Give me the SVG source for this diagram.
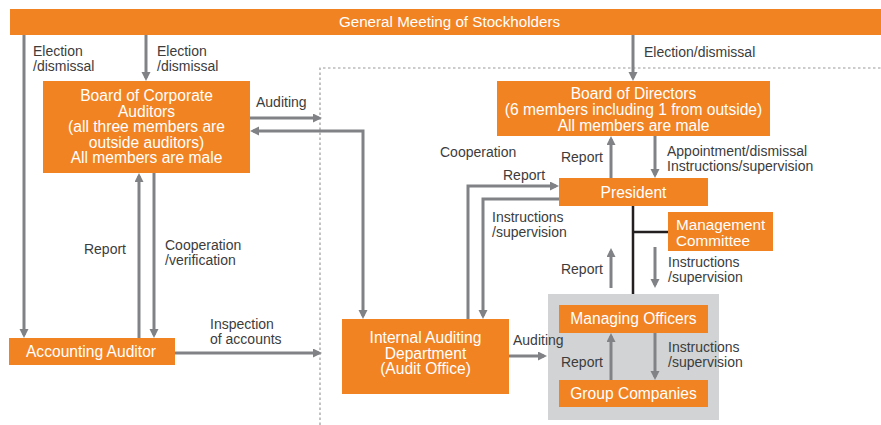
<svg xmlns="http://www.w3.org/2000/svg" width="881" height="425" viewBox="0 0 881 425">
<style>
.box{fill:#f28322}
.bt{font-family:"Liberation Sans",Arial,sans-serif;font-size:15.6px;fill:#ffffff;text-anchor:middle}
.btl{font-family:"Liberation Sans",Arial,sans-serif;font-size:15.3px;fill:#ffffff}
.lb{font-family:"Liberation Sans",Arial,sans-serif;font-size:14px;fill:#3c3c3c}
.ar{fill:none;stroke:#808285;stroke-width:3}
.blk{fill:none;stroke:#231f20;stroke-width:2.5}
.dot{fill:none;stroke:#9a9a9a;stroke-width:1.2;stroke-dasharray:2.5 2.5}
</style>
<defs>
<marker id="ah" markerUnits="userSpaceOnUse" markerWidth="10" markerHeight="10" refX="6" refY="4.5" orient="auto-start-reverse" viewBox="0 0 10 10">
<path d="M0,0 L9,4.5 L0,9 z" fill="#808285"/>
</marker>
</defs>
<rect width="881" height="425" fill="#ffffff"/>
<path class="dot" d="M320 425 V68 H881"/>
<rect x="548" y="294" width="171" height="126" fill="#d1d3d4"/>
<g id="connectors">
<path class="ar" d="M24 35 V335" marker-end="url(#ah)"/>
<path class="ar" d="M146 35 V78" marker-end="url(#ah)"/>
<path class="ar" d="M633 35 V78" marker-end="url(#ah)"/>
<path class="ar" d="M250 118 H319" marker-end="url(#ah)"/>
<path class="ar" d="M253 131 H363 V316" marker-start="url(#ah)" marker-end="url(#ah)"/>
<path class="ar" d="M139 338 V176" marker-end="url(#ah)"/>
<path class="ar" d="M154 173 V335" marker-end="url(#ah)"/>
<path class="ar" d="M175 353 H319" marker-end="url(#ah)"/>
<path class="ar" d="M611 178 V139" marker-end="url(#ah)"/>
<path class="ar" d="M655 136 V175" marker-end="url(#ah)"/>
<path class="ar" d="M468 319 V186 H556" marker-end="url(#ah)"/>
<path class="ar" d="M559 199 H483 V316" marker-end="url(#ah)"/>
<path class="blk" d="M633 206 V294 M633 232 H668"/>
<path class="ar" d="M655 247 V285" marker-end="url(#ah)"/>
<path class="ar" d="M611 288 V251" marker-end="url(#ah)"/>
<path class="ar" d="M509 356 H544" marker-end="url(#ah)"/>
<path class="ar" d="M611 380 V336" marker-end="url(#ah)"/>
<path class="ar" d="M655 333 V377" marker-end="url(#ah)"/>
</g>
<g id="labels">
<text class="lb" x="33" y="55.5">Election</text>
<text class="lb" x="33" y="70.5">/dismissal</text>
<text class="lb" x="157" y="55.5">Election</text>
<text class="lb" x="157" y="70.5">/dismissal</text>
<text class="lb" x="644" y="57">Election/dismissal</text>
<text class="lb" x="256" y="107">Auditing</text>
<text class="lb" x="126" y="254" text-anchor="end">Report</text>
<text class="lb" x="165" y="249.5">Cooperation</text>
<text class="lb" x="165" y="264.5">/verification</text>
<text class="lb" x="210" y="328.5">Inspection</text>
<text class="lb" x="210" y="343.5">of accounts</text>
<text class="lb" x="440" y="157">Cooperation</text>
<text class="lb" x="503" y="180">Report</text>
<text class="lb" x="492" y="221.5">Instructions</text>
<text class="lb" x="492" y="236.5">/supervision</text>
<text class="lb" x="603" y="162" text-anchor="end">Report</text>
<text class="lb" x="667" y="155.5">Appointment/dismissal</text>
<text class="lb" x="667" y="170.5">Instructions/supervision</text>
<text class="lb" x="668" y="266.5">Instructions</text>
<text class="lb" x="668" y="281.5">/supervision</text>
<text class="lb" x="603" y="274" text-anchor="end">Report</text>
<text class="lb" x="513" y="345">Auditing</text>
<text class="lb" x="668" y="351.5">Instructions</text>
<text class="lb" x="668" y="366.5">/supervision</text>
<text class="lb" x="603" y="367" text-anchor="end">Report</text>
</g>
<g id="gms">
<rect class="box" x="10" y="9" width="871" height="26"/>
<text class="bt" x="449.5" y="27" style="font-size:15.2px">General Meeting of Stockholders</text>
</g>
<g id="bca">
<rect class="box" x="43" y="81" width="207" height="92"/>
<text class="bt" x="146.5" y="101">Board of Corporate</text>
<text class="bt" x="146.5" y="116.5">Auditors</text>
<text class="bt" x="146.5" y="132">(all three members are</text>
<text class="bt" x="146.5" y="147.5">outside auditors)</text>
<text class="bt" x="146.5" y="163">All members are male</text>
</g>
<g id="aa">
<rect class="box" x="9" y="338" width="166" height="27"/>
<text class="bt" x="91" y="357">Accounting Auditor</text>
</g>
<g id="bod">
<rect class="box" x="497" y="81" width="273" height="55"/>
<text class="bt" x="633.5" y="99">Board of Directors</text>
<text class="bt" x="633.5" y="115">(6 members including 1 from outside)</text>
<text class="bt" x="633.5" y="130.5">All members are male</text>
</g>
<g id="president">
<rect class="box" x="559" y="178" width="149" height="28"/>
<text class="bt" x="633.5" y="197.5">President</text>
</g>
<g id="mc">
<rect class="box" x="668" y="212" width="105" height="39"/>
<text class="btl" x="676" y="230">Management</text>
<text class="btl" x="676" y="245.5">Committee</text>
</g>
<g id="iad">
<rect class="box" x="342" y="319" width="167" height="75"/>
<text class="bt" x="425.5" y="343">Internal Auditing</text>
<text class="bt" x="425.5" y="358.5">Department</text>
<text class="bt" x="425.5" y="374">(Audit Office)</text>
</g>
<g id="mo">
<rect class="box" x="559" y="305" width="149" height="28"/>
<text class="bt" x="633.5" y="324">Managing Officers</text>
</g>
<g id="gc">
<rect class="box" x="559" y="380" width="149" height="27"/>
<text class="bt" x="633.5" y="398.5">Group Companies</text>
</g>
</svg>
